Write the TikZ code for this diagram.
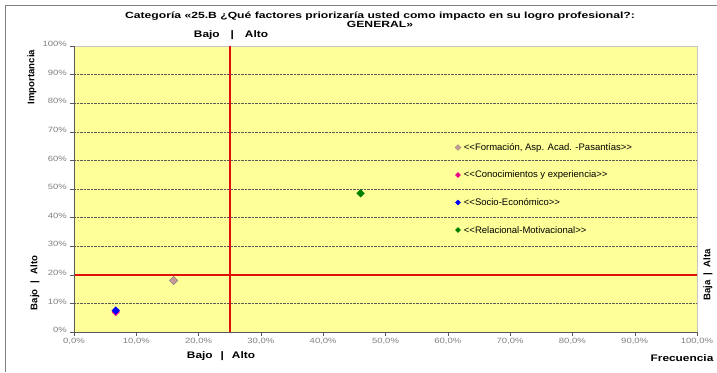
\documentclass[tikz,border=0pt]{standalone}
\usepackage{fontspec}
\newfontfamily\arial{Liberation Sans}
\newfontfamily\labfont[FakeStretch=1.25]{Liberation Sans}
\newfontfamily\ttlfont[FakeStretch=1.35]{Liberation Sans}
\usetikzlibrary{shapes.geometric,positioning}
\definecolor{plotyellow}{RGB}{255,255,153}
\definecolor{quadred}{RGB}{222,16,8}
\definecolor{rosy}{RGB}{204,153,153}
\definecolor{mkgreen}{RGB}{0,128,0}
\begin{document}
\begin{tikzpicture}[x=1pt,y=-1pt,font=\arial,
  gridline/.style={densely dotted,gray!70!black,line width=0.4pt},
  quadline/.style={quadred,line width=1.6pt},
  ylab/.style={anchor=east,inner sep=0pt,text=gray,font=\labfont\fontsize{7.6}{8}\selectfont},
  xlab/.style={anchor=north,inner sep=0pt,text=gray,font=\labfont\fontsize{7.6}{8}\selectfont},
  boldlab/.style={inner sep=0pt,font=\labfont\bfseries\fontsize{9.5}{10}\selectfont},
  sidelab/.style={inner sep=0pt,rotate=90,font=\arial\bfseries\fontsize{9.6}{10}\selectfont},
  point/.style={diamond,inner sep=0pt,minimum size=8.5pt,fill=#1},
  legmark/.style={diamond,inner sep=0pt,minimum size=6pt,fill=#1},
  legtxt/.style={anchor=west,inner sep=0pt,font=\arial\fontsize{9.5}{10}\selectfont}]
\useasboundingbox (0,0) rectangle (717,372);
\draw[gray,line width=1.6pt] (5.5,372) -- (5.5,5.5) -- (717,5.5);
\node[align=center,inner sep=0pt,font=\ttlfont\bfseries\fontsize{9}{9.4}\selectfont] (title) at (380,20) {Categoría «25.B ¿Qué factores priorizaría usted como impacto en su logro profesional?:\\GENERAL»};
\fill[plotyellow] (74,46) rectangle (697,332);
\draw[gray!45] (74,46) -- (697,46) -- (697,332);
\draw[gridline] (74,303.4) -- (697,303.4);
\draw[gridline] (74,274.8) -- (697,274.8);
\draw[gridline] (74,246.2) -- (697,246.2);
\draw[gridline] (74,217.6) -- (697,217.6);
\draw[gridline] (74,189) -- (697,189);
\draw[gridline] (74,160.4) -- (697,160.4);
\draw[gridline] (74,131.8) -- (697,131.8);
\draw[gridline] (74,103.2) -- (697,103.2);
\draw[gridline] (74,74.6) -- (697,74.6);
\draw[quadline] (229.8,46) -- (229.8,332);
\draw[quadline] (74,274.8) -- (697,274.8);
\draw[gray!70!black] (74,46) -- (74,332) -- (697,332);
\draw[gray!70!black] (70,332) -- (74,332);
\draw[gray!70!black] (70,303.4) -- (74,303.4);
\draw[gray!70!black] (70,274.8) -- (74,274.8);
\draw[gray!70!black] (70,246.2) -- (74,246.2);
\draw[gray!70!black] (70,217.6) -- (74,217.6);
\draw[gray!70!black] (70,189) -- (74,189);
\draw[gray!70!black] (70,160.4) -- (74,160.4);
\draw[gray!70!black] (70,131.8) -- (74,131.8);
\draw[gray!70!black] (70,103.2) -- (74,103.2);
\draw[gray!70!black] (70,74.6) -- (74,74.6);
\draw[gray!70!black] (70,46) -- (74,46);
\draw[gray!70!black] (74,332) -- (74,336);
\draw[gray!70!black] (136.3,332) -- (136.3,336);
\draw[gray!70!black] (198.6,332) -- (198.6,336);
\draw[gray!70!black] (260.9,332) -- (260.9,336);
\draw[gray!70!black] (323.2,332) -- (323.2,336);
\draw[gray!70!black] (385.5,332) -- (385.5,336);
\draw[gray!70!black] (447.8,332) -- (447.8,336);
\draw[gray!70!black] (510.1,332) -- (510.1,336);
\draw[gray!70!black] (572.4,332) -- (572.4,336);
\draw[gray!70!black] (634.7,332) -- (634.7,336);
\draw[gray!70!black] (697,332) -- (697,336);
\node[ylab] (y0) at (67,330) {0\%};
\node[ylab] (y10) at (67,301.4) {10\%};
\node[ylab] (y20) at (67,272.8) {20\%};
\node[ylab] (y30) at (67,244.2) {30\%};
\node[ylab] (y40) at (67,215.6) {40\%};
\node[ylab] (y50) at (67,187) {50\%};
\node[ylab] (y60) at (67,158.4) {60\%};
\node[ylab] (y70) at (67,129.8) {70\%};
\node[ylab] (y80) at (67,101.2) {80\%};
\node[ylab] (y90) at (67,72.6) {90\%};
\node[ylab] (y100) at (67,44) {100\%};
\node[xlab] (x0) at (74,338) {0,0\%};
\node[xlab] (x10) at (136.3,338) {10,0\%};
\node[xlab] (x20) at (198.6,338) {20,0\%};
\node[xlab] (x30) at (260.9,338) {30,0\%};
\node[xlab] (x40) at (323.2,338) {40,0\%};
\node[xlab] (x50) at (385.5,338) {50,0\%};
\node[xlab] (x60) at (447.8,338) {60,0\%};
\node[xlab] (x70) at (510.1,338) {70,0\%};
\node[xlab] (x80) at (572.4,338) {80,0\%};
\node[xlab] (x90) at (634.7,338) {90,0\%};
\node[xlab] (x100) at (697,338) {100,0\%};
\node[boldlab] (topBA) at (231,35) {Bajo\hspace{11pt}|\hspace{11pt}Alto};
\node[boldlab] (botBA) at (221,356) {Bajo\hspace{8pt}|\hspace{8pt}Alto};
\node[sidelab] (leftBA) at (35,283) {Bajo\hspace{6pt}|\hspace{6pt}Alto};
\node[sidelab] (rightBA) at (708,275) {Baja\hspace{5pt}|\hspace{5pt}Alta};
\node[sidelab] (impo) at (32,77) {Importancia};
\node[boldlab] (frec) at (682,358) {Frecuencia};
\node[point=rosy,draw=gray,line width=0.5pt] (ptForm) at (173.7,280.5) {};
\node[point=magenta] (ptCono) at (115.7,312) {};
\node[point=blue] (ptSocio) at (115.7,310.5) {};
\node[point=mkgreen] (ptRel) at (360.6,193.3) {};
\node[legmark=rosy,draw=gray,line width=0.4pt] (lgForm) at (458,147.5) {};
\node[legmark=magenta] (lgCono) at (458,175) {};
\node[legmark=blue] (lgSocio) at (458,202.5) {};
\node[legmark=mkgreen] (lgRel) at (458,230) {};
\node[legtxt,right=2.5pt of lgForm] (txForm) {<<Formación, Asp. Acad. -Pasantías>>};
\node[legtxt,right=2.5pt of lgCono] (txCono) {<<Conocimientos y experiencia>>};
\node[legtxt,right=2.5pt of lgSocio] (txSocio) {<<Socio-Económico>>};
\node[legtxt,right=2.5pt of lgRel] (txRel) {<<Relacional-Motivacional>>};
\end{tikzpicture}
\end{document}
